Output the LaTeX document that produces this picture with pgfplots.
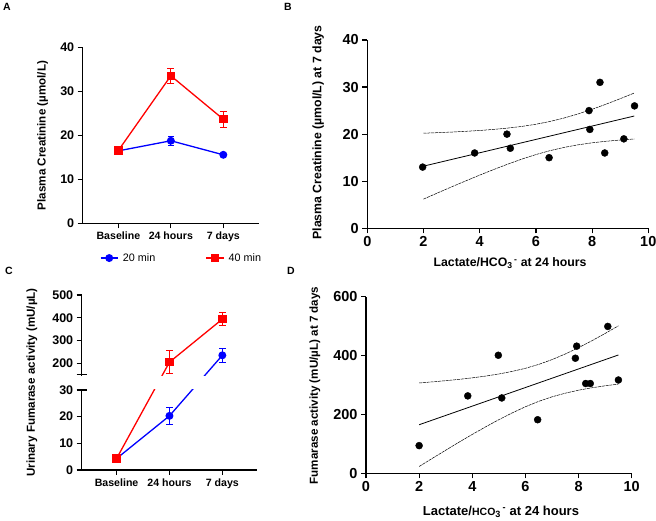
\documentclass[border=0pt]{standalone}
\usepackage{fontspec}
\setmainfont{Liberation Sans}
\usepackage{pgfplots}
\usepackage{pgfplotstable}
\pgfplotsset{compat=1.18}

\pgfplotstableread{
x up lo
2 20.20 6.20
2.5 20.31 7.51
3 20.44 8.80
3.5 20.60 10.06
4 20.78 11.30
4.5 21.01 12.49
5 21.29 13.63
5.5 21.64 14.70
6 22.10 15.66
6.5 22.69 16.49
7 23.42 17.18
7.5 24.29 17.73
8 25.28 18.16
8.5 26.37 18.49
9 27.53 18.75
9.5 28.73 18.97
}\bandB

\pgfplotstableread{
x up lo
2 306.9 23.1
2.5 310.6 51.0
3 314.7 78.5
3.5 319.1 105.7
4 324.3 132.1
4.5 330.3 157.7
5 337.4 182.2
5.5 346.1 205.1
6 356.7 226.1
6.5 370.0 244.4
7 386.2 259.8
7.5 405.4 272.2
8 426.8 282.4
8.5 450.3 290.5
9 475.1 297.3
9.5 501.0 303.0
}\bandD

\pgfplotstableread{
x y
1.97 13
3.82 16
4.97 20
5.09 17
6.47 15
7.89 25
7.92 21
8.28 31
8.45 16
9.13 19
9.51 26
}\ptsB

\pgfplotstableread{
x y
2.00 94
3.83 263
4.98 401
5.11 256
6.46 182
7.88 391
7.93 432
8.27 305
8.44 305
9.10 499
9.50 317
}\ptsD

\pgfplotsset{
  mystyle/.style={
    scale only axis,
    axis lines=left,
    axis line style={-, line width=1.2pt},
    tick align=outside,
    major tick length=5pt,
    tick style={line width=1.2pt, black},
    xticklabel style={font=\bfseries\fontsize{10.6}{12}\selectfont},
    yticklabel style={font=\bfseries\fontsize{12.5}{14}\selectfont},
    label style={font=\bfseries\fontsize{11.6}{13}\selectfont},
    /pgf/number format/assume math mode=true,
    clip=false,
  },
  bigticks/.style={
    xticklabel style={font=\bfseries\fontsize{14.5}{16}\selectfont},
    yticklabel style={font=\bfseries\fontsize{14.5}{16}\selectfont},
  },
  band/.style={black, line width=0.5pt, dash pattern=on 3pt off 0.8pt},
  errstyle/.style={error bars/.cd, y dir=both, y explicit,
    error bar style={line width=1pt, solid},
    error mark options={rotate=90, mark size=#1, line width=1pt, solid}},
  ebar/.style={line width=1pt, mark=-, mark size=#1, mark options={solid, line width=1pt}, forget plot},
}

\begin{document}
\begin{tikzpicture}
\path[use as bounding box] (0pt,0pt) rectangle (656pt,521pt);

% Panel letters
\node[font=\bfseries\fontsize{10.5}{12}\selectfont] at (7pt,514pt) {A};
\node[font=\bfseries\fontsize{10.5}{12}\selectfont] at (288pt,514pt) {B};
\node[font=\bfseries\fontsize{10.5}{12}\selectfont] at (9pt,250pt) {C};
\node[font=\bfseries\fontsize{10.5}{12}\selectfont] at (291pt,250pt) {D};

% ---------------- A ----------------
\begin{axis}[mystyle,
  at={(82.7pt,297.7pt)}, anchor=south west,
  width=176.3pt, height=175.6pt,
  xmin=-0.68, xmax=2.68, ymin=0, ymax=40,
  xtick={0,1,2}, xticklabels={Baseline,24 hours,7 days},
  ytick={0,10,20,30,40},
  ylabel={Plasma Creatinine (µmol/L)},
  ylabel style={at={(axis description cs:-0.227,0.5)}, anchor=center},
  legend columns=2,
  legend style={draw=none, fill=none, at={(0.568,-0.198)}, anchor=center,
    font=\fontsize{10.8}{12}\selectfont,
    nodes={inner xsep=4.5pt},
    /tikz/every even column/.append style={column sep=46pt}},
]
\addplot[blue, line width=1.3pt, mark=*, mark size=3.3pt, errstyle=2.8pt]
  coordinates {(0,16.5) +- (0,0.4) (1,18.8) +- (0,1.0) (2,15.6) +- (0,0.5)};
\addlegendentry{20 min}
\addplot[red, line width=1.3pt, mark=square*, mark size=3.6pt, errstyle=3.5pt]
  coordinates {(0,16.6) +- (0,0.5) (1,33.6) +- (0,1.7) (2,23.7) +- (0,1.85)};
\addlegendentry{40 min}
\end{axis}

% ---------------- B ----------------
\begin{axis}[mystyle, bigticks,
  at={(367.3pt,292.7pt)}, anchor=south west,
  width=281pt, height=188.3pt,
  xmin=0, xmax=10, ymin=0, ymax=40,
  xtick={0,2,4,6,8,10}, ytick={0,10,20,30,40},
  label style={font=\bfseries\fontsize{12.3}{14}\selectfont},
  xlabel={Lactate/HCO\textsubscript{3}\textsuperscript{\,-} at 24 hours},
  ylabel={Plasma Creatinine (µmol/L) at 7 days},
  xlabel style={at={(axis description cs:0.508,-0.184)}, anchor=center},
  ylabel style={at={(axis description cs:-0.175,0.509)}, anchor=center},
]
\addplot[band] table[x=x, y=up] {\bandB};
\addplot[band] table[x=x, y=lo] {\bandB};
\addplot[black, line width=0.8pt] coordinates {(2,13.2) (9.5,23.85)};
\addplot[only marks, mark=*, mark size=3.5pt, black] table[x=x, y=y] {\ptsB};
\end{axis}

% ---------------- C ----------------
\begin{axis}[mystyle,
  at={(81.7pt,51pt)}, anchor=south west,
  width=175pt, height=175pt,
  y coord trafo/.code={\pgfmathparse{ifthenelse(#1<=30, #1, ifthenelse(#1<150, 30+(#1-30)*0.04783, 35.74+(#1-150)*0.08538))}},
  y coord inv trafo/.code={\pgfmathparse{ifthenelse(#1<=30, #1, ifthenelse(#1<35.74, 30+(#1-30)/0.04783, 150+(#1-35.74)/0.08538))}},
  xmin=-0.66, xmax=2.65, ymin=0, ymax=500,
  xtick={0,1,2}, xticklabels={Baseline,24 hours,7 days},
  ytick={0,10,20,200,300,400,500},
  yticklabels={0,10,20,200,300,400,500},
  extra y ticks={30,150},
  extra y tick labels={30,},
  extra y tick style={tick align=center, major tick length=10pt},
  ylabel={Urinary Fumarase activity (mU/µL)},
  ylabel style={at={(axis description cs:-0.285,0.5)}, anchor=center},
]
% error bars (drawn through the broken scale)
\addplot[blue, ebar=2.8pt] coordinates {(0,3.9) (0,4.7)};
\addplot[blue, ebar=3.5pt] coordinates {(1,17.2) (1,23.4)};
\addplot[blue, ebar=3.5pt] coordinates {(2,203) (2,267)};
\addplot[red, ebar=3.5pt] coordinates {(0,3.8) (0,4.8)};
\addplot[red, ebar=3.5pt] coordinates {(1,153) (1,257)};
\addplot[red, ebar=3.5pt] coordinates {(2,365) (2,423)};
% series
\addplot[blue, line width=1.3pt, mark=*, mark size=3.3pt]
  coordinates {(0,4.3) (1,20.3) (2,235)};
\addplot[red, line width=1.3pt, mark=square*, mark size=3.6pt]
  coordinates {(0,4.3) (1,205) (2,394)};
\fill[white] (axis cs:-0.676,36) rectangle (axis cs:2.9,143);
\end{axis}

% ---------------- D ----------------
\begin{axis}[mystyle, bigticks,
  at={(366pt,47.7pt)}, anchor=south west,
  width=265.7pt, height=176.6pt,
  xmin=0, xmax=10, ymin=0, ymax=600,
  xtick={0,2,4,6,8,10}, ytick={0,200,400,600},
  xlabel={Lactate/{\fontsize{10.5}{12}\selectfont HCO}\textsubscript{3}\textsuperscript{\,-} at 24 hours},
  ylabel={Fumarase activity (mU/µL) at 7 days},
  xlabel style={at={(axis description cs:0.508,-0.217)}, anchor=center, font=\bfseries\fontsize{13}{15}\selectfont},
  ylabel style={at={(axis description cs:-0.192,0.497)}, anchor=center},
]
\addplot[band] table[x=x, y=up] {\bandD};
\addplot[band] table[x=x, y=lo] {\bandD};
\addplot[black, line width=0.8pt] coordinates {(2,165) (9.5,402)};
\addplot[only marks, mark=*, mark size=3.5pt, black] table[x=x, y=y] {\ptsD};
\end{axis}
\end{tikzpicture}
\end{document}
